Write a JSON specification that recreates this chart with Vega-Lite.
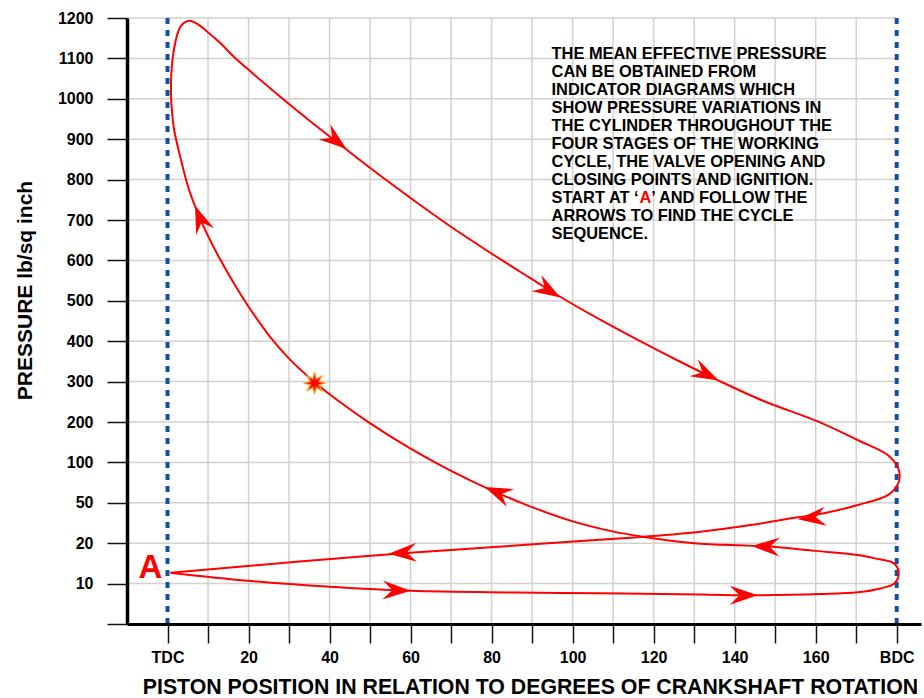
{
  "$schema": "https://vega.github.io/schema/vega-lite/v6.json",
  "width": 794,
  "height": 606,
  "autosize": {"type": "none"},
  "padding": {"left": 127, "top": 18, "right": 3, "bottom": 74},
  "background": "white",
  "config": {"view": {"stroke": null}, "font": "Liberation Sans"},
  "datasets": {
    "vgrid": [{"deg": 10}, {"deg": 20}, {"deg": 30}, {"deg": 40}, {"deg": 50}, {"deg": 60}, {"deg": 70}, {"deg": 80}, {"deg": 90}, {"deg": 100}, {"deg": 110}, {"deg": 120}, {"deg": 130}, {"deg": 140}, {"deg": 150}, {"deg": 160}, {"deg": 170}],
    "hgrid": [{"p": 10}, {"p": 20}, {"p": 50}, {"p": 100}, {"p": 200}, {"p": 300}, {"p": 400}, {"p": 500}, {"p": 600}, {"p": 700}, {"p": 800}, {"p": 900}, {"p": 1000}, {"p": 1100}, {"p": 1200}],
    "deadcentres": [{"deg": 0, "name": "TDC"}, {"deg": 180, "name": "BDC"}],
    "cycle": [
      {"i": 1, "deg": 0.7, "p": 12.7}, {"i": 2, "deg": 19.8, "p": 10.7}, {"i": 3, "deg": 40.2, "p": 9.2}, {"i": 4, "deg": 60, "p": 8.2},
      {"i": 5, "deg": 86.4, "p": 7.8}, {"i": 6, "deg": 106.9, "p": 7.6}, {"i": 7, "deg": 131.6, "p": 7.3}, {"i": 8, "deg": 145.7, "p": 7.1},
      {"i": 9, "deg": 161.2, "p": 7.4}, {"i": 10, "deg": 170.4, "p": 7.85}, {"i": 11, "deg": 176, "p": 8.8}, {"i": 12, "deg": 179.5, "p": 10.1},
      {"i": 13, "deg": 180.5, "p": 12.7}, {"i": 14, "deg": 179.3, "p": 15.0}, {"i": 15, "deg": 174.3, "p": 16.3}, {"i": 16, "deg": 170.4, "p": 17.1},
      {"i": 17, "deg": 160, "p": 18.1}, {"i": 18, "deg": 149.6, "p": 19.1}, {"i": 19, "deg": 143.2, "p": 19.4}, {"i": 20, "deg": 129.9, "p": 20.0},
      {"i": 21, "deg": 117.53, "p": 24.8}, {"i": 22, "deg": 110.12, "p": 28.6}, {"i": 23, "deg": 100.25, "p": 36.0}, {"i": 24, "deg": 89.63, "p": 47.2},
      {"i": 25, "deg": 79.75, "p": 66.1}, {"i": 26, "deg": 69.88, "p": 89.9}, {"i": 27, "deg": 60, "p": 134.2}, {"i": 28, "deg": 49.31, "p": 201.7},
      {"i": 29, "deg": 39.43, "p": 273}, {"i": 30, "deg": 36.3, "p": 298.3}, {"i": 31, "deg": 29.95, "p": 357.4}, {"i": 32, "deg": 25.43, "p": 409.7},
      {"i": 33, "deg": 19.68, "p": 490.3}, {"i": 34, "deg": 16.05, "p": 549}, {"i": 35, "deg": 12.84, "p": 605.2}, {"i": 36, "deg": 10.12, "p": 658.2},
      {"i": 37, "deg": 7.73, "p": 710.9}, {"i": 38, "deg": 5.26, "p": 776.7}, {"i": 39, "deg": 3.21, "p": 853.5}, {"i": 40, "deg": 1.56, "p": 927.7},
      {"i": 41, "deg": 0.91, "p": 997}, {"i": 42, "deg": 0.86, "p": 1026.7}, {"i": 43, "deg": 0.91, "p": 1054.7}, {"i": 44, "deg": 1.56, "p": 1120.8},
      {"i": 45, "deg": 3.21, "p": 1178.5}, {"i": 46, "deg": 5.26, "p": 1193.3},
      {"i": 47, "deg": 7.16, "p": 1186.4}, {"i": 48, "deg": 9.8, "p": 1166.1}, {"i": 49, "deg": 13.09, "p": 1137.4}, {"i": 50, "deg": 16.37, "p": 1104.2},
      {"i": 51, "deg": 20.49, "p": 1067.6}, {"i": 52, "deg": 27.9, "p": 1004.5}, {"i": 53, "deg": 35.31, "p": 943.8}, {"i": 54, "deg": 43.21, "p": 881.9},
      {"i": 55, "deg": 50.86, "p": 822.5}, {"i": 56, "deg": 60.0, "p": 754.5}, {"i": 57, "deg": 69.88, "p": 683.9}, {"i": 58, "deg": 79.01, "p": 623.3},
      {"i": 59, "deg": 87.16, "p": 571.3}, {"i": 60, "deg": 95.8, "p": 516.8}, {"i": 61, "deg": 106.91, "p": 452.5}, {"i": 62, "deg": 116.79, "p": 399.3},
      {"i": 63, "deg": 126.67, "p": 348.5}, {"i": 64, "deg": 136.05, "p": 302.5}, {"i": 65, "deg": 147.16, "p": 252.0}, {"i": 66, "deg": 160.49, "p": 201.5},
      {"i": 67, "deg": 170.37, "p": 155.4}, {"i": 68, "deg": 177.78, "p": 118.3}, {"i": 69, "deg": 180.25, "p": 94.4}, {"i": 70, "deg": 180.74, "p": 82.3},
      {"i": 71, "deg": 180.2, "p": 72}, {"i": 72, "deg": 177.8, "p": 59.6}, {"i": 73, "deg": 170.4, "p": 48.4}, {"i": 74, "deg": 162, "p": 42.2},
      {"i": 75, "deg": 155.6, "p": 39.2}, {"i": 76, "deg": 143.95, "p": 33.5}, {"i": 77, "deg": 131.6, "p": 28.5}, {"i": 78, "deg": 117.5, "p": 24.8},
      {"i": 79, "deg": 101.98, "p": 21.6}, {"i": 80, "deg": 79.75, "p": 18.99}, {"i": 81, "deg": 60.74, "p": 17.67}, {"i": 82, "deg": 40.25, "p": 16.11},
      {"i": 83, "deg": 19.75, "p": 14.36}, {"i": 84, "deg": 0.7, "p": 12.7}
    ],
    "arrows": [
      {"deg": 60, "p": 8.2, "dir": 2}, {"deg": 145.7, "p": 7.1, "dir": 0},
      {"deg": 144.2, "p": 19.3, "dir": 182}, {"deg": 78.3, "p": 69.6, "dir": 203},
      {"deg": 6.79, "p": 735.9, "dir": 249}, {"deg": 44.2, "p": 875.7, "dir": 38},
      {"deg": 97, "p": 508.2, "dir": 31}, {"deg": 136.05, "p": 302.5, "dir": 27},
      {"deg": 155.6, "p": 37.8, "dir": 174}, {"deg": 54.57, "p": 17.4, "dir": 177}
    ],
    "ignition": [{"deg": 36.3, "p": 296}],
    "start": [{"deg": 0.7, "p": 12.7, "label": "A"}],
    "noteTop": [{"deg": 94.8, "p": 1097.5, "text": "THE MEAN EFFECTIVE PRESSURE\nCAN BE OBTAINED FROM\nINDICATOR DIAGRAMS WHICH\nSHOW PRESSURE VARIATIONS IN\nTHE CYLINDER THROUGHOUT THE\nFOUR STAGES OF THE WORKING\nCYCLE, THE VALVE OPENING AND\nCLOSING POINTS AND IGNITION."}],
    "noteStart1": [{"deg": 94.8, "p": 741.1, "text": "START AT ‘"}],
    "noteStartA": [{"deg": 94.8, "p": 741.1, "text": "A"}],
    "noteStart2": [{"deg": 94.8, "p": 741.1, "text": "’ AND FOLLOW THE"}],
    "noteEnd": [{"deg": 94.8, "p": 696.5, "text": "ARROWS TO FIND THE CYCLE\nSEQUENCE."}]
  },
  "layer": [
    {
      "data": {"name": "vgrid"},
      "mark": {"type": "rule", "color": "#d3d1ce", "strokeWidth": 1.5},
      "encoding": {
        "x": {
          "field": "deg", "type": "quantitative",
          "scale": {"domain": [-10, 186], "nice": false, "zero": false},
          "axis": {
            "values": [0, 10, 20, 30, 40, 50, 60, 70, 80, 90, 100, 110, 120, 130, 140, 150, 160, 170, 180],
            "format": "d",
            "labelExpr": "datum.value == 0 ? 'TDC' : datum.value == 180 ? 'BDC' : (datum.value % 20 == 0 ? datum.label : '')",
            "grid": false, "zindex": 1,
            "domainColor": "#000000", "domainWidth": 3,
            "tickColor": "#111111", "tickWidth": 1.5, "tickSize": 19,
            "labelFont": "Liberation Sans", "labelFontWeight": "bold", "labelFontSize": 16, "labelColor": "#000000",
            "labelPadding": 6, "labelOverlap": false, "labelFlush": false,
            "title": "PISTON POSITION IN RELATION TO DEGREES OF  CRANKSHAFT ROTATION",
            "titleFont": "Liberation Sans", "titleFontWeight": "bold", "titleFontSize": 21.3, "titleColor": "#000000",
            "titleX": 403, "titleY": 69, "titleAlign": "center", "titleBaseline": "alphabetic"
          }
        },
        "y": {"datum": 0, "type": "quantitative",
          "scale": {"type": "linear", "domain": [0, 10, 20, 50, 100, 200, 300, 400, 500, 600, 700, 800, 900, 1000, 1100, 1200],
                    "range": [606, 565.6, 525.2, 484.8, 444.4, 404, 363.6, 323.2, 282.8, 242.4, 202, 161.6, 121.2, 80.8, 40.4, 0],
                    "nice": false, "zero": false},
          "axis": {
            "values": [0, 10, 20, 50, 100, 200, 300, 400, 500, 600, 700, 800, 900, 1000, 1100, 1200],
            "format": "d",
            "labelExpr": "datum.value == 0 ? '' : datum.label",
            "grid": false, "zindex": 1,
            "domainColor": "#000000", "domainWidth": 3.5,
            "tickColor": "#111111", "tickWidth": 1.5, "tickSize": 20,
            "labelFont": "Liberation Sans", "labelFontWeight": "bold", "labelFontSize": 16, "labelColor": "#000000",
            "labelPadding": 14, "labelOverlap": false, "labelFlush": false,
            "title": "PRESSURE lb/sq inch",
            "titleFont": "Liberation Sans", "titleFontWeight": "bold", "titleFontSize": 21, "titleColor": "#000000",
            "titleAngle": -90, "titleX": -96, "titleY": 272, "titleAlign": "center", "titleBaseline": "alphabetic"
          }
        },
        "y2": {"datum": 1200}
      }
    },
    {
      "data": {"name": "hgrid"},
      "mark": {"type": "rule", "color": "#d3d1ce", "strokeWidth": 1.5},
      "encoding": {
        "y": {"field": "p", "type": "quantitative"},
        "x": {"datum": -10, "type": "quantitative"},
        "x2": {"datum": 180}
      }
    },
    {
      "data": {"name": "deadcentres"},
      "mark": {"type": "rule", "color": "#14509f", "strokeWidth": 4, "strokeDash": [6, 6]},
      "encoding": {
        "x": {"field": "deg", "type": "quantitative"},
        "y": {"datum": 1200, "type": "quantitative"},
        "y2": {"datum": 0}
      }
    },
    {
      "data": {"name": "cycle"},
      "mark": {"type": "line", "color": "#ff0000", "strokeWidth": 2, "interpolate": "catmull-rom"},
      "encoding": {
        "x": {"field": "deg", "type": "quantitative"},
        "y": {"field": "p", "type": "quantitative"},
        "order": {"field": "i", "type": "quantitative"}
      }
    },
    {
      "data": {"name": "arrows"},
      "mark": {"type": "point", "filled": true, "color": "#ff0000", "opacity": 1, "size": 784,
               "shape": "M0,0 L-2,-0.68 L-1.3,0 L-2,0.68 Z", "strokeWidth": 0},
      "encoding": {
        "x": {"field": "deg", "type": "quantitative"},
        "y": {"field": "p", "type": "quantitative"},
        "angle": {"field": "dir", "type": "quantitative", "scale": null}
      }
    },
    {
      "data": {"name": "ignition"},
      "mark": {"type": "point", "filled": true, "fill": "#ff0000", "stroke": "#ff9a1a", "strokeWidth": 1.2, "opacity": 1, "size": 484,
               "shape": "M1,0 L0.37,0.153 L0.707,0.707 L0.153,0.37 L0,1 L-0.153,0.37 L-0.707,0.707 L-0.37,0.153 L-1,0 L-0.37,-0.153 L-0.707,-0.707 L-0.153,-0.37 L0,-1 L0.153,-0.37 L0.707,-0.707 L0.37,-0.153 Z"},
      "encoding": {
        "x": {"field": "deg", "type": "quantitative"},
        "y": {"field": "p", "type": "quantitative"}
      }
    },
    {
      "data": {"name": "start"},
      "mark": {"type": "text", "color": "#ff0000", "font": "Liberation Sans", "fontWeight": "bold", "fontSize": 33,
               "align": "right", "baseline": "alphabetic", "dx": -8, "dy": 5},
      "encoding": {
        "x": {"field": "deg", "type": "quantitative"},
        "y": {"field": "p", "type": "quantitative"},
        "text": {"field": "label"}
      }
    },
    {
      "data": {"name": "noteTop"},
      "mark": {"type": "text", "color": "#000000", "font": "Liberation Sans", "fontWeight": "bold", "fontSize": 16.4,
               "align": "left", "baseline": "alphabetic", "lineBreak": "\n", "lineHeight": 18},
      "encoding": {
        "x": {"field": "deg", "type": "quantitative"},
        "y": {"field": "p", "type": "quantitative"},
        "text": {"field": "text"}
      }
    },
    {
      "data": {"name": "noteStart1"},
      "mark": {"type": "text", "color": "#000000", "font": "Liberation Sans", "fontWeight": "bold", "fontSize": 16.4,
               "align": "left", "baseline": "alphabetic"},
      "encoding": {
        "x": {"field": "deg", "type": "quantitative"},
        "y": {"field": "p", "type": "quantitative"},
        "text": {"field": "text"}
      }
    },
    {
      "data": {"name": "noteStartA"},
      "mark": {"type": "text", "color": "#ff0000", "font": "Liberation Sans", "fontWeight": "bold", "fontSize": 16.4,
               "align": "left", "baseline": "alphabetic", "dx": 88},
      "encoding": {
        "x": {"field": "deg", "type": "quantitative"},
        "y": {"field": "p", "type": "quantitative"},
        "text": {"field": "text"}
      }
    },
    {
      "data": {"name": "noteStart2"},
      "mark": {"type": "text", "color": "#000000", "font": "Liberation Sans", "fontWeight": "bold", "fontSize": 16.4,
               "align": "left", "baseline": "alphabetic", "dx": 99.8},
      "encoding": {
        "x": {"field": "deg", "type": "quantitative"},
        "y": {"field": "p", "type": "quantitative"},
        "text": {"field": "text"}
      }
    },
    {
      "data": {"name": "noteEnd"},
      "mark": {"type": "text", "color": "#000000", "font": "Liberation Sans", "fontWeight": "bold", "fontSize": 16.4,
               "align": "left", "baseline": "alphabetic", "lineBreak": "\n", "lineHeight": 18},
      "encoding": {
        "x": {"field": "deg", "type": "quantitative"},
        "y": {"field": "p", "type": "quantitative"},
        "text": {"field": "text"}
      }
    }
  ]
}
